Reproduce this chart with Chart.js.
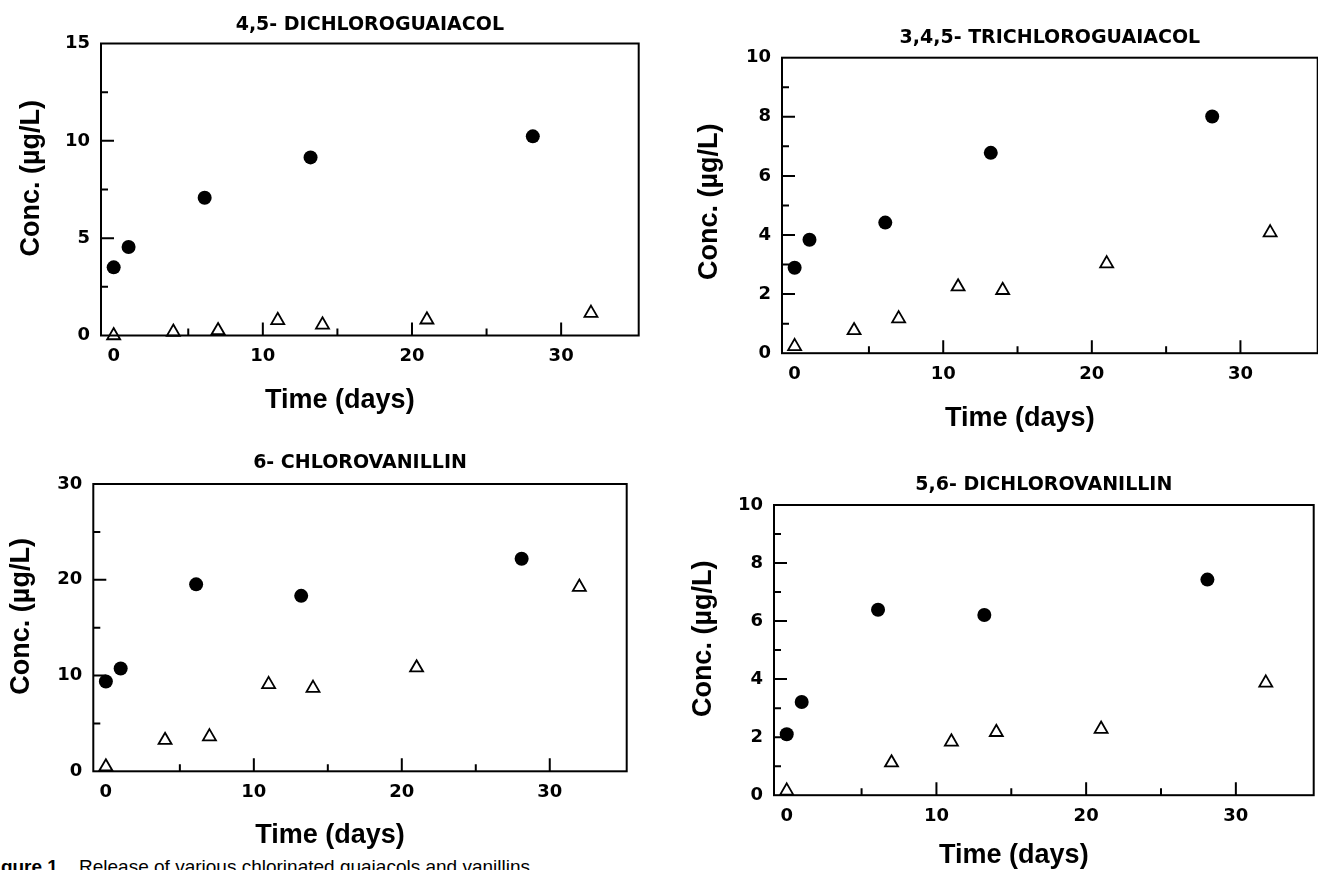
<!DOCTYPE html>
<html>
<head>
<meta charset="utf-8">
<script src="https://cdn.jsdelivr.net/npm/chart.js@4.4.1/dist/chart.umd.min.js"></script>
<style>
html, body { margin: 0; padding: 0; width: 1318px; height: 870px; overflow: hidden; background: #fff; }
canvas { position: absolute; }
#caption { position: absolute; left: -16px; top: 856px; font-family: 'Liberation Sans', Arial, sans-serif; font-size: 19px; color: #000; white-space: nowrap; }
</style>
</head>
<body>
<canvas id="c0"></canvas>
<canvas id="c1"></canvas>
<canvas id="c2"></canvas>
<canvas id="c3"></canvas>
<div id="caption"><b>Figure 1.</b>&nbsp;&nbsp; Release of various chlorinated guaiacols and vanillins</div>
<script>
// ---------- data ----------
const panelTitles = ['4,5- DICHLOROGUAIACOL', '3,4,5- TRICHLOROGUAIACOL', '6- CHLOROVANILLIN', '5,6- DICHLOROVANILLIN'];
const xAxisTitle = 'Time (days)';
const yAxisTitle = 'Conc. (µg/L)';

const dotDays = [0, 1, 6.1, 13.2, 28.1];
const triDays = [0, 4, 7, 11, 14, 21, 32];
const triDaysDCV = [0, 7, 11, 14, 21, 32];

const dcgDots = [3.5, 4.55, 7.08, 9.15, 10.23];
const dcgTris = [0.0, 0.18, 0.26, 0.78, 0.55, 0.81, 1.15];
const tcgDots = [2.89, 3.84, 4.42, 6.78, 8.01];
const tcgTris = [0.23, 0.77, 1.17, 2.25, 2.13, 3.03, 4.08];
const cvDots = [9.37, 10.73, 19.52, 18.32, 22.2];
const cvTris = [0.48, 3.25, 3.62, 9.08, 8.69, 10.82, 19.24];
const dcvDots = [2.10, 3.21, 6.39, 6.21, 7.43];
const dcvTris = [0.15, 1.12, 1.84, 2.17, 2.28, 3.87];

const xTickLabels = [0, 10, 20, 30];
const xMajorMarks = [10, 20, 30];
const xMinorMarks = [5, 15, 25];
const yTicks15 = [0, 5, 10, 15];
const yMinor15 = [2.5, 7.5, 12.5];
const yTicks10 = [0, 2, 4, 6, 8, 10];
const yMinor10 = [1, 3, 5, 7, 9];
const yTicks30 = [0, 10, 20, 30];
const yMinor30 = [5, 15, 25];

// ---------- panels ----------
const panels = [
  { title: panelTitles[0], dots: dcgDots, tDays: triDays, tris: dcgTris, yMax: 15, yTicks: yTicks15, yMinor: yMinor15,
    box: { cx: 14, cy: 12, L: 101, R: 645, T: 43.5, B: 335, titleY: 25, yTitleX: 32, xTitleY: 400, ySp: 3 } },
  { title: panelTitles[1], dots: tcgDots, tDays: triDays, tris: tcgTris, yMax: 10, yTicks: yTicks10, yMinor: yMinor10,
    box: { cx: 692, cy: 25, L: 782, R: 1324, T: 57.7, B: 353, titleY: 38.3, yTitleX: 710, xTitleY: 418.3, ySp: 1 } },
  { title: panelTitles[2], dots: cvDots, tDays: triDays, tris: cvTris, yMax: 30, yTicks: yTicks30, yMinor: yMinor30,
    box: { cx: 4, cy: 450, L: 93.3, R: 632.5, T: 484, B: 770.8, titleY: 463, yTitleX: 21.7, xTitleY: 835, ySp: 3 } },
  { title: panelTitles[3], dots: dcvDots, tDays: triDaysDCV, tris: dcvTris, yMax: 10, yTicks: yTicks10, yMinor: yMinor10,
    box: { cx: 686, cy: 472, L: 774, R: 1320, T: 505, B: 794.7, titleY: 485, yTitleX: 703.3, xTitleY: 855, ySp: 3 } }
];

const frameTicks = {
  id: 'frameTicks',
  beforeDatasetsDraw(chart, args, opts) {
    const { ctx, chartArea: { left, right, top, bottom }, scales: { x, y } } = chart;
    ctx.save();
    ctx.strokeStyle = '#000';
    ctx.lineWidth = 2;
    ctx.strokeRect(left, top, right - left, bottom - top);
    ctx.beginPath();
    opts.yMajor.forEach(v => { const p = y.getPixelForValue(v); ctx.moveTo(left, p); ctx.lineTo(left + 13, p); });
    opts.yMinor.forEach(v => { const p = y.getPixelForValue(v); ctx.moveTo(left, p); ctx.lineTo(left + 7, p); });
    opts.xMajor.forEach(v => { const p = x.getPixelForValue(v); ctx.moveTo(p, bottom); ctx.lineTo(p, bottom - 13); });
    opts.xMinor.forEach(v => { const p = x.getPixelForValue(v); ctx.moveTo(p, bottom); ctx.lineTo(p, bottom - 7); });
    ctx.stroke();
    ctx.restore();
  }
};

const tickFont = { family: "'DejaVu Sans', sans-serif", weight: 'bold', size: 18 };
const axisTitleFont = { family: "'Liberation Sans', Arial, sans-serif", weight: 'bold', size: 27, lineHeight: 1 };
const panelTitleFont = { family: "'DejaVu Sans', sans-serif", weight: 'bold', size: 19, lineHeight: 1 };

panels.forEach((p, i) => {
  const b = p.box;
  const Hx = b.xTitleY - b.B + 13.5;
  const cw = Math.round(b.R - b.cx + 3);
  const ch = Math.round(b.B + Hx - b.cy);
  const canvas = document.getElementById('c' + i);
  canvas.width = cw; canvas.height = ch;
  canvas.style.left = b.cx + 'px'; canvas.style.top = b.cy + 'px';
  canvas.style.width = cw + 'px'; canvas.style.height = ch + 'px';
  const tPadTop = b.titleY - b.cy - 9.5;
  const tPadBottom = b.T - b.cy - 19 - tPadTop;
  const yMajorMarks = p.yTicks.filter(v => v > 0 && v < p.yMax);

  new Chart(canvas, {
    type: 'scatter',
    data: {
      datasets: [
        { data: p.dots.map((v, k) => ({ x: dotDays[k], y: v })), pointStyle: 'circle', pointRadius: 7,
          backgroundColor: '#000', borderColor: '#000', borderWidth: 0, clip: false },
        { data: p.tris.map((v, k) => ({ x: p.tDays[k], y: v })), pointStyle: 'triangle', pointRadius: 7.5,
          backgroundColor: 'rgba(255,255,255,0)', borderColor: '#000', borderWidth: 1.8, clip: false }
      ]
    },
    options: {
      responsive: false, animation: false, devicePixelRatio: 1,
      layout: { padding: { left: 0, top: 0, right: 3, bottom: 0 } },
      plugins: {
        legend: { display: false }, tooltip: { enabled: false },
        title: { display: true, text: p.title, fullSize: false, color: '#000', font: panelTitleFont,
                 padding: { top: tPadTop, bottom: tPadBottom } },
        frameTicks: { yMajor: yMajorMarks, yMinor: p.yMinor, xMajor: xMajorMarks, xMinor: xMinorMarks }
      },
      scales: {
        x: {
          type: 'linear', min: -0.85, max: 35.2,
          afterBuildTicks: s => { s.ticks = xTickLabels.map(v => ({ value: v })); },
          afterFit: s => { s.height = Hx; },
          grid: { display: false, drawTicks: false }, border: { display: false },
          ticks: { padding: 10, color: '#000', font: tickFont, maxRotation: 0, autoSkip: false },
          title: { display: true, text: xAxisTitle + '        ', color: '#000', font: axisTitleFont, padding: { top: 0, bottom: 0 } }
        },
        y: {
          type: 'linear', min: 0, max: p.yMax,
          afterBuildTicks: s => { s.ticks = p.yTicks.map(v => ({ value: v })); },
          afterFit: s => { s.width = b.L - b.cx; },
          grid: { display: false, drawTicks: false }, border: { display: false },
          ticks: { padding: 11, color: '#000', font: tickFont, autoSkip: false },
          title: { display: true, text: ' '.repeat(b.ySp) + yAxisTitle, color: '#000', font: axisTitleFont,
                   padding: { top: b.yTitleX - b.cx - 13.5, bottom: 0 } }
        }
      }
    },
    plugins: [frameTicks]
  });
});
</script>
</body>
</html>
